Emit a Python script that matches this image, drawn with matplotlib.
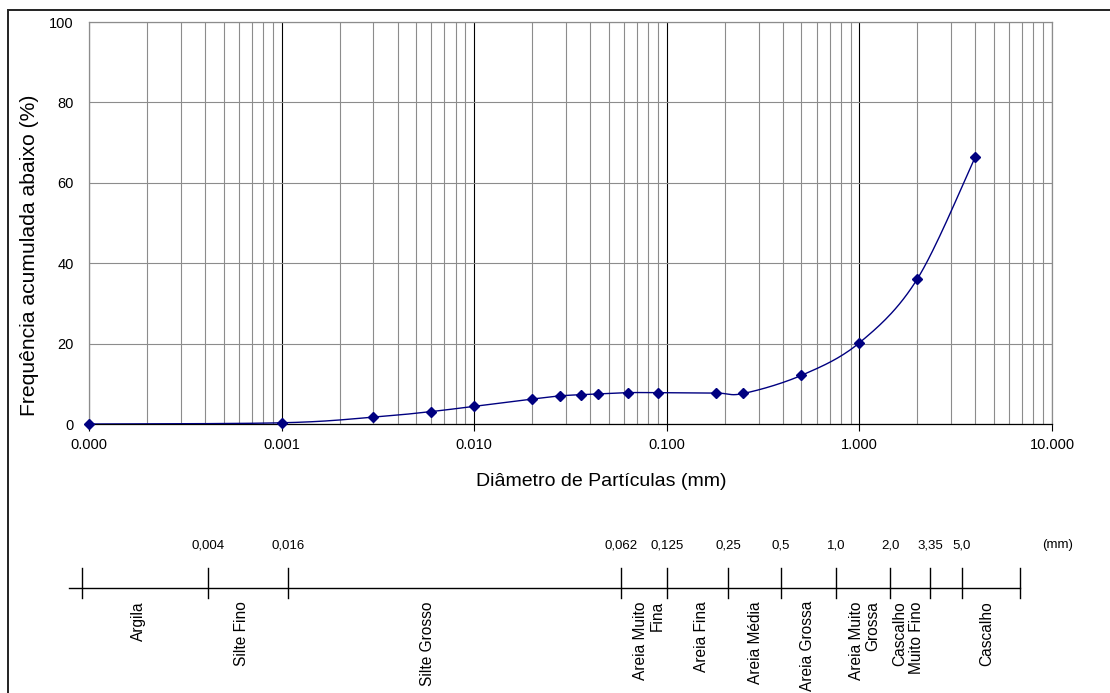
import numpy as np
import matplotlib
matplotlib.use("Agg")
import matplotlib.pyplot as plt
from matplotlib.ticker import LogLocator, FuncFormatter, NullFormatter, MultipleLocator
from matplotlib.patches import Rectangle

plt.rcParams['font.family'] = ['Liberation Sans', 'DejaVu Sans']

# curva granulometrica
diametro = [0.0001, 0.001, 0.003, 0.006, 0.010, 0.020, 0.028, 0.036, 0.044,
            0.063, 0.090, 0.180, 0.250, 0.500, 1.000, 2.000, 4.000]
freq_acum = [0.0, 0.3, 1.7, 3.1, 4.4, 6.2, 7.0, 7.3, 7.5,
             7.8, 7.8, 7.7, 7.6, 12.1, 20.2, 36.1, 66.5]

# escala de classes
limites = ["", "0,004", "0,016", "0,062", "0,125", "0,25", "0,5",
           "1,0", "2,0", "3,35", "5,0", ""]
classes = ["Argila", "Silte Fino", "Silte Grosso", "Areia Muito\nFina",
           "Areia Fina", "Areia Média", "Areia Grossa", "Areia Muito\nGrossa",
           "Cascalho\nMuito Fino", "", "Cascalho"]

# posicoes do esquema (pixels da figura)
pos_limites = [82, 208, 288, 621, 667, 728, 781, 836, 890, 930, 962, 1020]
pos_classes = [138, 242, 428, 649, 701, 755, 808, 865, 908, 946, 987]

W, H = 1110, 693
DEC, PCT = 193.0, 4.02  # pixels por decada / por %


def suavizar(x, y, n=30):
    # curva suavizada tipo Excel (bezier / catmull-rom) em espaco de tela
    P = np.column_stack([np.log10(x) * DEC, np.asarray(y) * PCT])
    P = np.vstack([P[0], P, P[-1]])
    t = np.linspace(0, 1, n)[:, None]
    pts = []
    for i in range(1, len(P) - 2):
        p0, p1, p2, p3 = P[i - 1], P[i], P[i + 1], P[i + 2]
        c1 = p1 + (p2 - p0) / 6
        c2 = p2 - (p3 - p1) / 6
        pts.append((1 - t) ** 3 * p1 + 3 * (1 - t) ** 2 * t * c1
                   + 3 * (1 - t) * t ** 2 * c2 + t ** 3 * p2)
    pts = np.vstack(pts)
    return 10 ** (pts[:, 0] / DEC), pts[:, 1] / PCT


fig = plt.figure(figsize=(W / 100, H / 100), dpi=100)

# moldura externa
fig.patches.append(Rectangle((8 / W, -0.1), 1.2, 1 - 10 / H + 0.1,
                             transform=fig.transFigure, fill=False,
                             edgecolor='#222222', lw=1.4))

ax = fig.add_axes([89 / W, 1 - 424 / H, 963 / W, 402 / H])
ax.set_xscale('log')
ax.set_xlim(1e-4, 10)
ax.set_ylim(0, 100)
ax.set_axisbelow(True)

ax.xaxis.set_major_locator(LogLocator(base=10, numticks=20))
ax.xaxis.set_minor_locator(LogLocator(base=10, subs=np.arange(2, 10), numticks=20))
ax.xaxis.set_major_formatter(FuncFormatter(lambda v, p: '%.3f' % v))
ax.xaxis.set_minor_formatter(NullFormatter())
ax.yaxis.set_major_locator(MultipleLocator(20))

ax.grid(which='major', axis='x', color='black', lw=0.8)
ax.grid(which='minor', axis='x', color='#8c8c8c', lw=0.8)
ax.grid(which='major', axis='y', color='#8c8c8c', lw=0.8)

for s in ['top', 'right', 'left']:
    ax.spines[s].set_color('#8c8c8c')
    ax.spines[s].set_linewidth(0.9)
ax.spines['bottom'].set_color('black')
ax.spines['bottom'].set_linewidth(0.9)

ax.tick_params(axis='x', which='major', length=5, width=0.8, pad=5, labelsize=10.5)
ax.tick_params(axis='x', which='minor', length=0)
ax.tick_params(axis='y', length=0, pad=11, labelsize=10.5)

xs, ys = suavizar(diametro, freq_acum)
ax.plot(xs, ys, color='#000080', lw=1.0, zorder=3)
ax.plot(diametro, freq_acum, linestyle='none', marker='D', markersize=5,
        color='#000080', zorder=4, clip_on=False)

ax.set_xlabel('Diâmetro de Partículas (mm)', fontsize=14)
ax.xaxis.set_label_coords(0.532, -0.122)
ax.set_ylabel('Frequência acumulada abaixo (%)', fontsize=15.2)
ax.yaxis.set_label_coords(-0.052, 0.42)

# escala de classes granulometricas
esc = fig.add_axes([0, 0, 1, 1], zorder=-1)
esc.set_xlim(0, W)
esc.set_ylim(H, 0)
esc.axis('off')
esc.plot([pos_limites[0] - 13, pos_limites[-1]], [588, 588], color='black', lw=1.0)
for xp, lab in zip(pos_limites, limites):
    esc.plot([xp, xp], [568, 598], color='black', lw=1.0)
    if lab:
        esc.text(xp, 545, lab, ha='center', va='center', fontsize=9.5)
esc.text(1058, 545, '(mm)', ha='center', va='center', fontsize=9.5)
for xp, nome in zip(pos_classes, classes):
    if nome:
        esc.text(xp, 601, nome, rotation=90, ha='center', va='top',
                 multialignment='right', fontsize=11.2, linespacing=1.1)

fig.savefig('out.png', dpi=100)
